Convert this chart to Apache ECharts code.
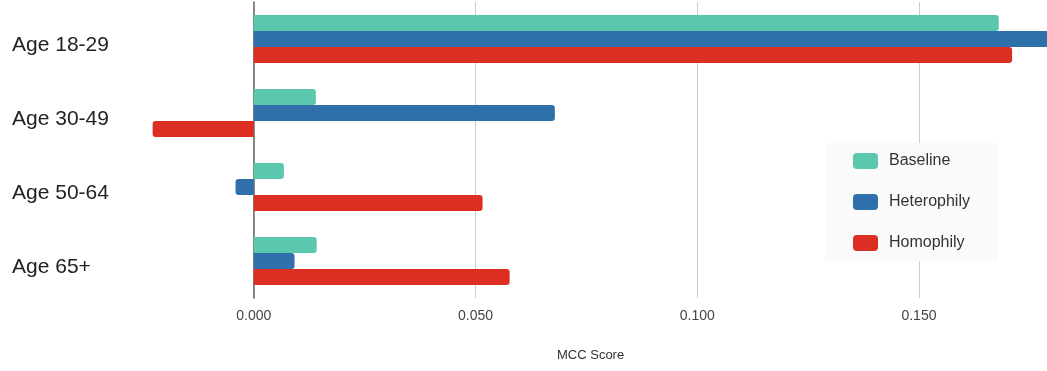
<!DOCTYPE html>
<html>
<head>
<meta charset="utf-8">
<script src="https://cdn.jsdelivr.net/npm/echarts@6/dist/echarts.min.js"></script>
<style>
  html, body { margin: 0; padding: 0; background: #fff; }
  #chart { width: 1047px; height: 371px; }
</style>
</head>
<body>
<div id="chart"></div>
<script>
// data
const categories = ['Age 18-29', 'Age 30-49', 'Age 50-64', 'Age 65+']
const baseline = [0.168, 0.0140, 0.0068, 0.0142]
const heterophily = [0.185, 0.0679, -0.0041, 0.0092]
const homophily = [0.171, -0.0228, 0.0516, 0.0577]
const seriesNames = ['Baseline', 'Heterophily', 'Homophily']
const colors = ['#5bc8ad', '#2f70aa', '#dc2e22']

// round only the outer end of each bar
function toBarData(values) {
  return values.map(function (v) {
    return {
      value: v,
      itemStyle: { borderRadius: v < 0 ? [3, 0, 0, 3] : [0, 3, 3, 0] },
    }
  })
}

const myChart = echarts.init(document.getElementById('chart'))

const font = "'Liberation Sans', Arial, sans-serif"

let option = {
  animation: false,
  textStyle: { fontFamily: font },
  grid: {
    left: 32,
    right: -5,
    top: 2,
    bottom: 73,
    containLabel: false,
    outerBoundsMode: 'none',
  },
  legend: {
    orient: 'vertical',
    left: 825,
    top: 143,
    backgroundColor: '#fafafa',
    padding: [10, 28, 10, 28],
    itemWidth: 25,
    itemHeight: 16,
    itemGap: 25,
    icon: 'roundRect',
    textStyle: { fontSize: 16, color: '#333', padding: [0, 0, 0, 6] },
    data: seriesNames,
  },
  xAxis: {
    type: 'value',
    min: -0.05,
    max: 0.18,
    interval: 0.05,
    axisLine: { show: false },
    axisTick: { show: false },
    axisLabel: {
      showMinLabel: false,
      showMaxLabel: false,
      margin: 11,
      fontSize: 14,
      color: '#444',
      formatter: function (v) { return v.toFixed(3) },
    },
    splitLine: {
      showMinLine: false,
      showMaxLine: false,
      lineStyle: { color: '#cccccc', width: 1 },
    },
  },
  yAxis: {
    type: 'category',
    inverse: true,
    data: categories,
    axisLine: { onZero: true, lineStyle: { color: '#666', width: 1.5 } },
    axisTick: { show: false },
    axisLabel: {
      align: 'left',
      verticalAlign: 'top',
      lineHeight: 12,
      margin: 20,
      fontSize: 21,
      color: '#222',
    },
  },
  graphic: [
    {
      type: 'text',
      left: 557,
      top: 349,
      style: { text: 'MCC Score', fill: '#333', font: '13px ' + font },
    },
  ],
  series: [
    {
      name: seriesNames[0],
      type: 'bar',
      barWidth: 16,
      barGap: '0%',
      itemStyle: { color: colors[0] },
      data: toBarData(baseline),
    },
    {
      name: seriesNames[1],
      type: 'bar',
      barWidth: 16,
      barGap: '0%',
      itemStyle: { color: colors[1] },
      data: toBarData(heterophily),
    },
    {
      name: seriesNames[2],
      type: 'bar',
      barWidth: 16,
      barGap: '0%',
      itemStyle: { color: colors[2] },
      data: toBarData(homophily),
    },
  ],
}
myChart.setOption(option)

window.addEventListener('resize', function () {
  myChart.resize()
})
</script>
</body>
</html>
